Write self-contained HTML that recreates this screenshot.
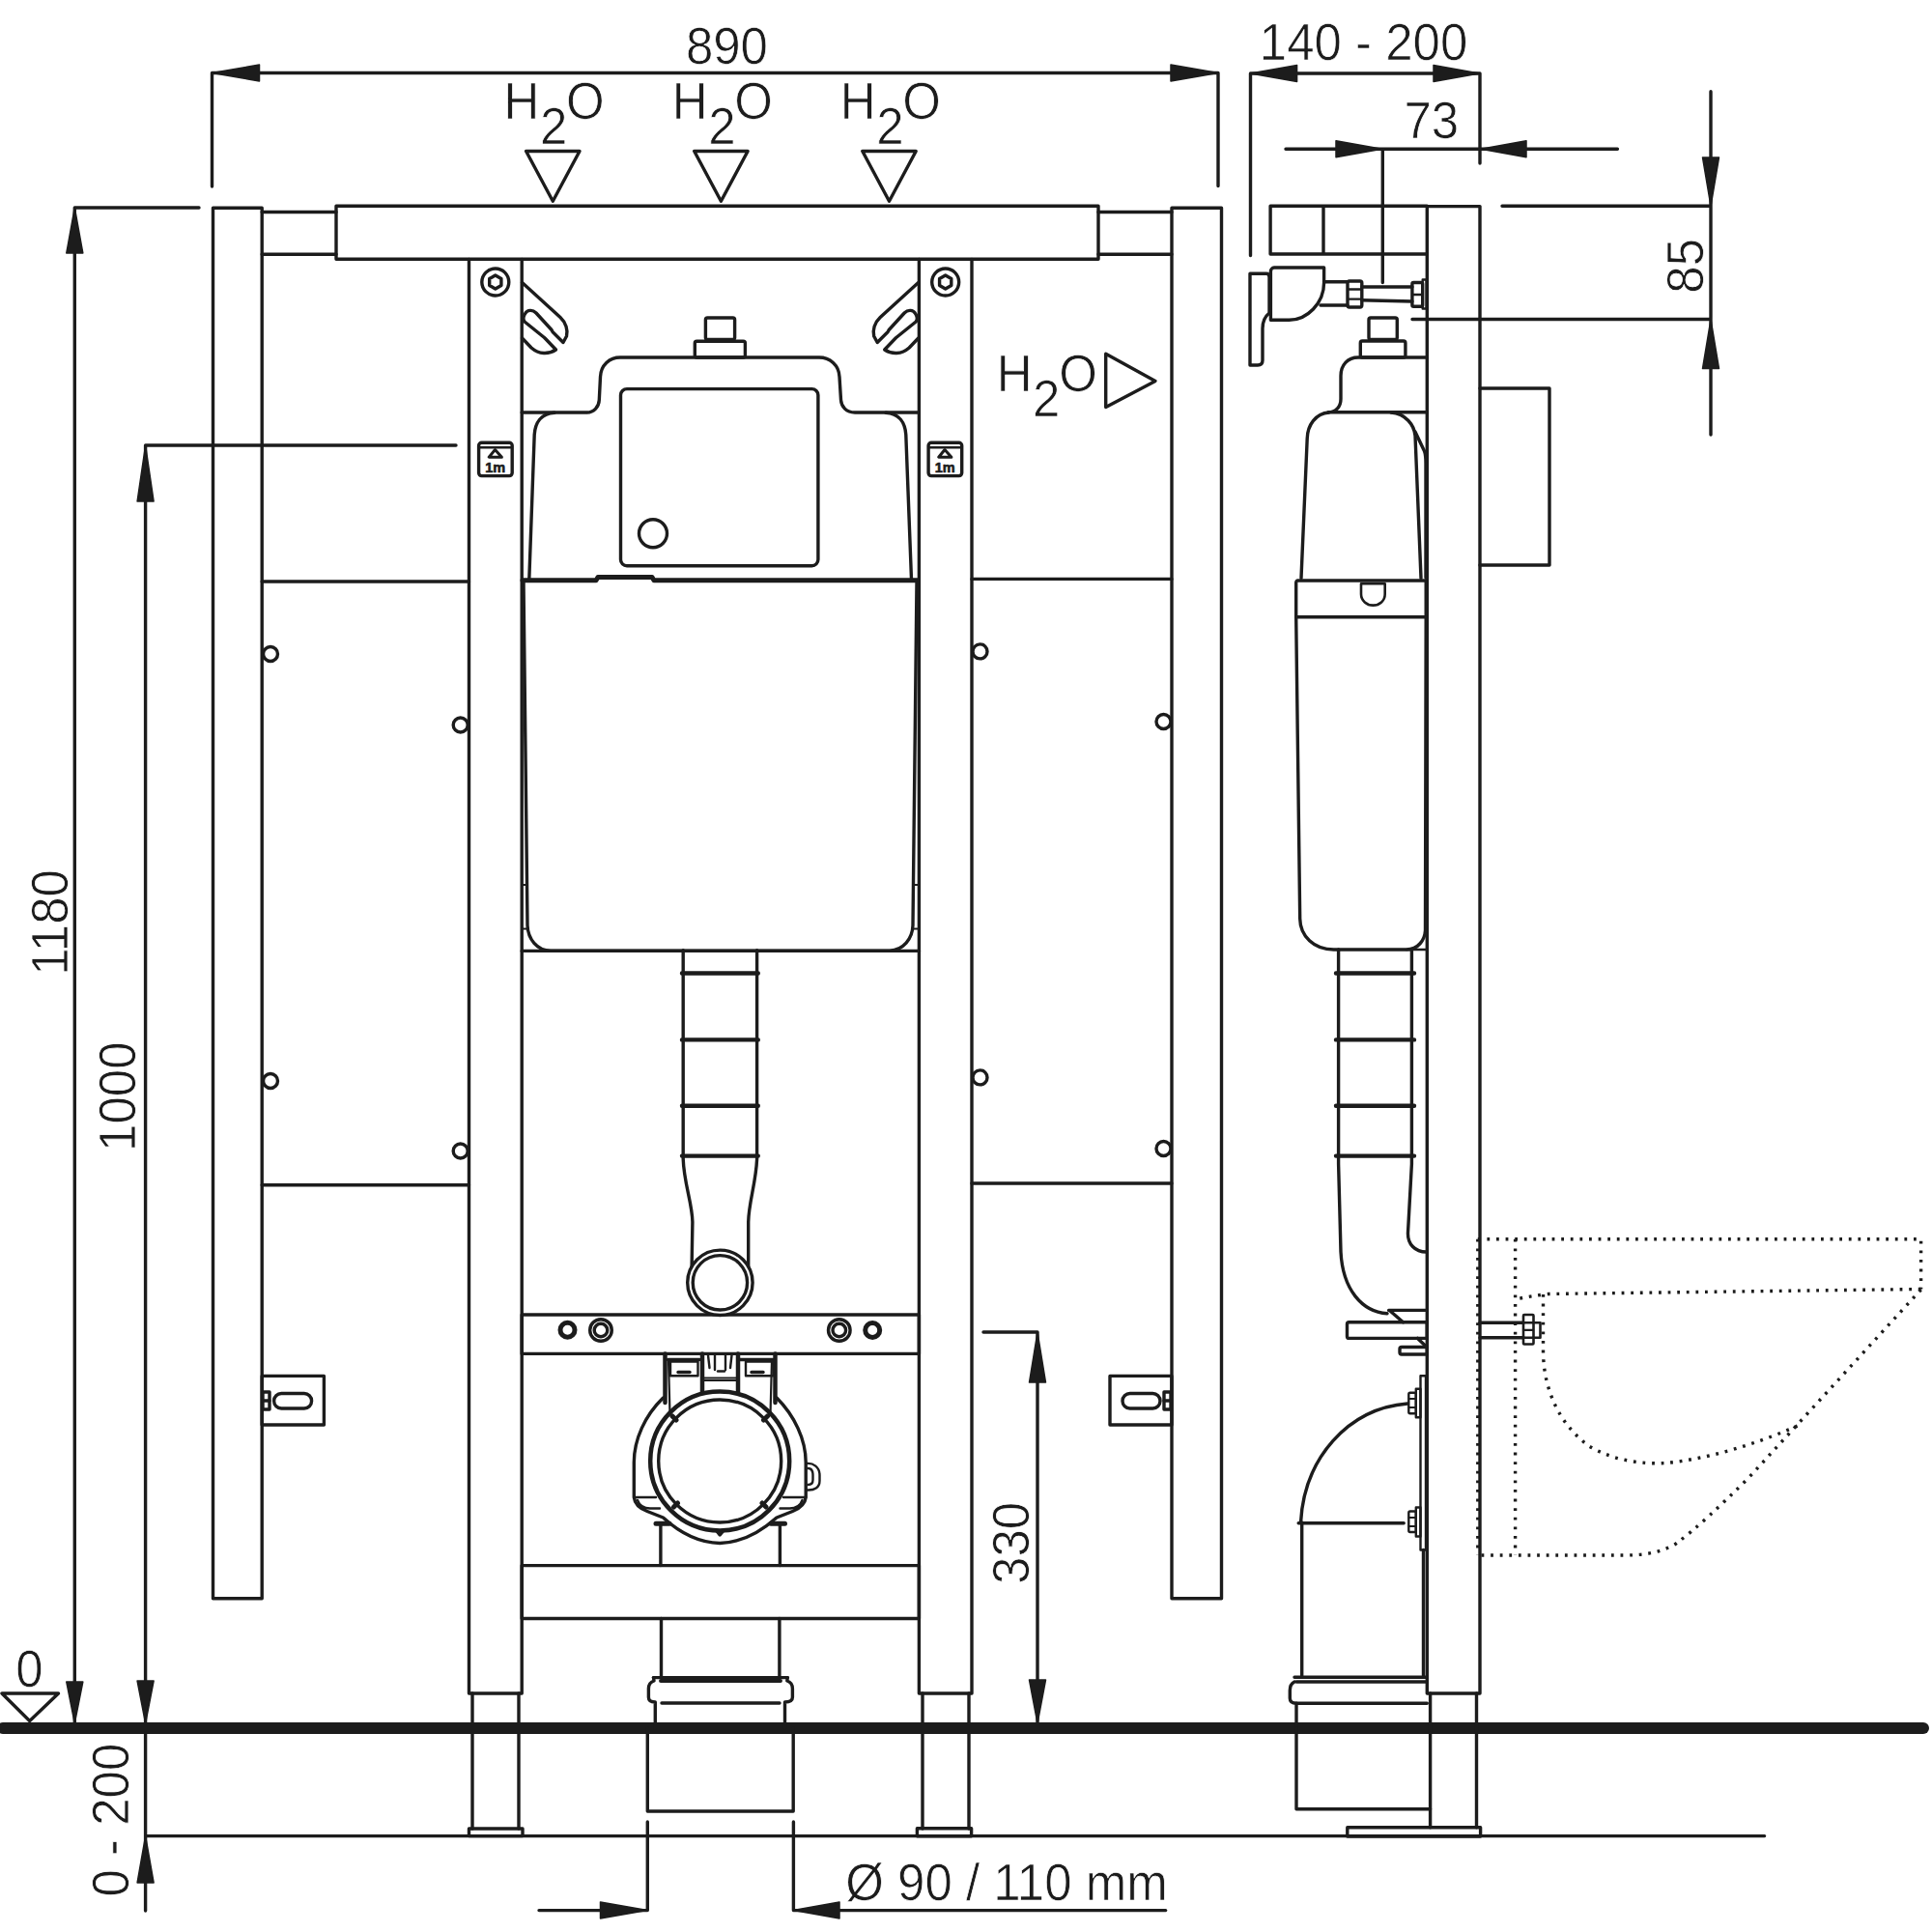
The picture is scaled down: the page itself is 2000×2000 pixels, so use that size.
<!DOCTYPE html>
<html><head><meta charset="utf-8">
<style>
html,body{margin:0;padding:0;background:#fff;}
svg{display:block;}
text{font-family:"Liberation Sans",sans-serif;fill:#1c1c1c;}
</style></head>
<body>
<svg width="2000" height="2000" viewBox="0 0 2000 2000">
<rect x="0" y="0" width="2000" height="2000" fill="#fff"/>
<g fill="none" stroke="#1c1c1c" stroke-width="3.4" stroke-linejoin="round" stroke-linecap="round">
<!-- ===== DIMENSIONS ===== -->
<!-- 890 -->
<path d="M219.5 193 V75.5 H1261 M1261 75.5 V192.5"/>
<path d="M219.5 75.5 L268.5 67 V84 Z M1261 75.5 L1212 67 V84 Z" fill="#1c1c1c" stroke-width="1.5"/>
<!-- 1180 -->
<path d="M77.3 1784 V215 H206"/>
<path d="M77.3 215 L68.8 262 H85.8 Z M77.3 1784 L68.8 1741 H85.8 Z" fill="#1c1c1c" stroke-width="1.5"/>
<!-- 1000 -->
<path d="M150.6 1784 V461 H472"/>
<path d="M150.6 461 L142.1 519 H159.1 Z M150.6 1784 L142.1 1740 H159.1 Z" fill="#1c1c1c" stroke-width="1.5"/>
<!-- 0-200 -->
<path d="M150.6 1789 V1978 M150.6 1900.6 H1826.6"/>
<path d="M150.6 1900.6 L142.1 1949 H159.1 Z" fill="#1c1c1c" stroke-width="1.5"/>
<!-- 330 -->
<path d="M1018 1379 H1074 V1784"/>
<path d="M1074 1379 L1065.5 1431 H1082.5 Z M1074 1784 L1065.5 1739 H1082.5 Z" fill="#1c1c1c" stroke-width="1.5"/>
<!-- zero triangle -->
<path d="M2 1753 H60.5 L30.7 1781.5 Z"/>
<!-- H2O triangles -->
<path d="M544.6 156.5 H600 L572.3 208.2 Z M718.7 156.5 H774.1 L746.4 208.2 Z M892.8 156.5 H948.2 L920.5 208.2 Z"/>
<path d="M1144.7 366.2 V421.6 L1196 394.4 Z"/>
<!-- 140-200 -->
<path d="M1294.5 264.5 V76 H1532 V169"/>
<path d="M1294.5 76 L1342.6 67.5 V84.5 Z M1532 76 L1484 67.5 V84.5 Z" fill="#1c1c1c" stroke-width="1.5"/>
<!-- 73 -->
<path d="M1331 154.2 H1674.4 M1431.3 154.2 V292.5"/>
<path d="M1430.6 154.2 L1383 145.7 V162.7 Z M1533 154.2 L1580 145.7 V162.7 Z" fill="#1c1c1c" stroke-width="1.5"/>
<!-- 85 -->
<path d="M1771 94.7 V450 M1555 213.3 H1771 M1462 330.5 H1771"/>
<path d="M1771 213.3 L1762.5 163 H1779.5 Z M1771 330.5 L1762.5 381.5 H1779.5 Z" fill="#1c1c1c" stroke-width="1.5"/>
<!-- diameter -->
<path d="M670.3 1886 V1977.6 M821.4 1886 V1977.6 M558 1977.6 H670 M821.4 1977.6 H1206.7"/>
<path d="M670 1977.6 L621.5 1969 V1986 Z M821.4 1977.6 L869 1969 V1986 Z" fill="#1c1c1c" stroke-width="1.5"/>

<!-- ===== FRONT FRAME ===== -->
<rect x="220.5" y="215.3" width="50.7" height="1439.5"/>
<rect x="1213" y="215.3" width="51.5" height="1439.5"/>
<path d="M271.2 219.5 H348 M271.2 263.3 H348 M1137 219.5 H1213 M1137 263.3 H1213"/>
<rect x="348" y="213.3" width="789" height="55"/>
<!-- inner columns -->
<path d="M485.5 268.4 V1753 H540.2 V268.4"/>
<path d="M951.4 268.4 V1753 H1006 V268.4"/>
<!-- side panels -->
<path d="M271.2 602 H485.5 M271.2 1226.7 H485.5 M1006 599.4 H1213 M1006 1225 H1213"/>
<circle cx="280" cy="677" r="7.5"/><circle cx="476.7" cy="750.5" r="7.5"/>
<circle cx="280" cy="1119" r="7.5"/><circle cx="476.7" cy="1191.5" r="7.5"/>
<circle cx="1014.5" cy="674.4" r="7.5"/><circle cx="1204.5" cy="747" r="7.5"/>
<circle cx="1014.5" cy="1115.4" r="7.5"/><circle cx="1204.5" cy="1189" r="7.5"/>
<!-- brackets -->
<rect x="271.2" y="1424.4" width="64.2" height="50.6"/>
<rect x="283.6" y="1442.5" width="39" height="15.5" rx="7.7"/>
<rect x="272" y="1441" width="7" height="18"/>
<path d="M272 1450 H279"/>
<rect x="1149" y="1424.4" width="64" height="50.6"/>
<rect x="1162" y="1442.5" width="39" height="15.5" rx="7.7"/>
<rect x="1205" y="1441" width="7" height="18"/>
<path d="M1205 1450 H1212"/>
<!-- feet -->
<path d="M489 1753 V1893 M537 1753 V1893"/>
<rect x="485.5" y="1893" width="55.5" height="7.6"/>
<path d="M955 1753 V1893 M1003 1753 V1893"/>
<rect x="949.4" y="1892.8" width="56.2" height="8"/>
<!-- crossbars -->
<rect x="540.2" y="1361" width="411.2" height="40.4"/>
<rect x="540.2" y="1620.6" width="411.2" height="54.9"/>
</g>
<!-- ground -->
<path d="M3 1789 H1991" stroke="#1c1c1c" stroke-width="12" stroke-linecap="round" fill="none"/>
<g fill="none" stroke="#1c1c1c" stroke-width="3.4" stroke-linejoin="round" stroke-linecap="round">
<!-- screws -->
<circle cx="512.8" cy="292" r="14"/>
<path d="M512.8 285 L518.9 288.5 V295.5 L512.8 299 L506.7 295.5 V288.5 Z"/>
<circle cx="978.7" cy="292" r="14"/>
<path d="M978.7 285 L984.8 288.5 V295.5 L978.7 299 L972.6 295.5 V288.5 Z"/>
<!-- slot shapes -->
<g id="slotL">
<path d="M540.5 292.5 L580 328.5 C586 334 588 342 586.5 348 L583 354.5 L572.5 344 C571.5 343 571.5 342 571 341.5 L555 324 C551 320 546 321 544 324 C541.5 327.5 541.5 331 543 333 L563.5 349.5 L565 351 L575.5 362 C568 367 558 367 550 360 L540.5 350"/>
</g>
<g transform="translate(1491.2,0) scale(-1,1)">
<path d="M540.5 292.5 L580 328.5 C586 334 588 342 586.5 348 L583 354.5 L572.5 344 C571.5 343 571.5 342 571 341.5 L555 324 C551 320 546 321 544 324 C541.5 327.5 541.5 331 543 333 L563.5 349.5 L565 351 L575.5 362 C568 367 558 367 550 360 L540.5 350"/>
</g>
<!-- icons -->
<g id="icoL">
<rect x="495.6" y="458.2" width="34.6" height="34.4" rx="3"/>
<path d="M496.5 463.2 H529.5" stroke-width="2.6"/>
<path d="M512.5 465.5 L506.2 473.2 H519.4 Z" stroke-width="3"/>

<text transform="translate(512.6,488.6) scale(1,1.05)" font-size="14.5" font-weight="bold" text-anchor="middle" stroke="#1c1c1c" stroke-width="0.6" fill="#1c1c1c">1m</text>
</g>
<use href="#icoL" transform="translate(465.5,0)"/>
<!-- knob -->
<rect x="730.4" y="329" width="30.2" height="22.4" rx="2"/>
<rect x="719.3" y="353.2" width="52.1" height="16.8" rx="2"/>
<!-- top profile -->
<path d="M540.2 427 H607.5 C615 427 620 421 620.3 414 L621.5 390 C622 378 631 370 642 370 H848 C859 370 868.5 378 869 390 L870.5 414 C871 421 876 427 885 427 H951.4"/>
<!-- inner panel -->
<rect x="642.5" y="402.6" width="204.4" height="183.2" rx="6.5"/>
<circle cx="676" cy="552.2" r="14.5"/>
<!-- upper body -->
<path d="M574 427.3 C560 428 554 438 553.2 450 L547.8 600"/>
<path d="M917 427.3 C931 428 937 438 937.8 450 L943.5 600"/>
<!-- thick line -->
<path d="M541 600.8 H617 L619 597.5 H675 L677 600.8 H949.7" stroke-width="5"/>
<!-- front panel -->
<path d="M542 603 L546 958 C546.5 972 556 984 570 984.2 H921 C935 983.7 944.5 972 945 958 L949 603"/>
<path d="M540.2 984.4 H951.4"/>
<path d="M540.2 916 H545 M540.2 961.5 H546 M951.4 916 H946.5 M951.4 961.5 H945.5" stroke-width="2"/>
</g>
<g fill="none" stroke="#1c1c1c" stroke-width="3.4" stroke-linejoin="round" stroke-linecap="round">
<!-- upper pipe -->
<path d="M707.2 983.7 V1199.8 C708 1225 716.5 1245 716.9 1265 L716 1318"/>
<path d="M783.6 983.7 V1199.8 C782.5 1225 775 1245 774.7 1265 V1318"/>
<path d="M706 1007.5 H784.8 M706 1076.4 H784.8 M706 1144.8 H784.8 M706 1196.6 H784.8" stroke-width="4.4"/>
<circle cx="745.4" cy="1327.8" r="33.7" fill="#fff"/>
<circle cx="745.4" cy="1327.8" r="28.2"/>
<!-- crossbar holes -->
<circle cx="587.5" cy="1376.8" r="7.5" stroke-width="5"/>
<circle cx="622" cy="1377" r="11.3"/><circle cx="622" cy="1377" r="6.8"/>
<circle cx="868.8" cy="1377" r="11.3"/><circle cx="868.8" cy="1377" r="6.8"/>
<circle cx="903.2" cy="1377" r="7.5" stroke-width="5"/>
<!-- clamp assembly -->
<path d="M688.5 1401.4 V1452 M802.5 1401.4 V1452" stroke-width="4.5"/>
<path d="M691.5 1407.5 H724 M766 1407.5 H800"/>
<path d="M692 1408 L693.5 1464 M799 1408 L797.5 1464" stroke-width="2.2"/>
<rect x="694" y="1409.5" width="28.5" height="14.8" stroke-width="2.4"/>
<rect x="772" y="1409.5" width="28.5" height="14.8" stroke-width="2.4"/>
<path d="M702 1420.5 H714 M778 1420.5 H790" stroke-width="3.5"/>
<path d="M727 1401.4 V1442 M764 1401.4 V1442" stroke-width="4.5"/>
<path d="M733 1403 L734.5 1416 M740 1403 V1418 M751 1403 V1418 M757.5 1403 L756 1416" stroke-width="2.4"/>
<path d="M743 1419.5 H750" stroke-width="2.4"/>
<path d="M729 1426.5 H762 M729 1429 H762" stroke-width="2.2"/>
<!-- outer shell -->
<path d="M686.5 1447 C668 1465 656 1490 656.3 1515 V1550 C657 1556 661 1561 670 1564.5 L686.5 1571 C705 1588 725 1597 745.2 1597.5 C765 1597 785 1588 804 1571 L820.5 1564.5 C829 1561 833.5 1556 834.2 1550 V1515 C834.5 1490 822 1465 804 1447"/>
<path d="M656.3 1550 H679 M834.2 1550 H811" stroke-width="2.4"/>
<path d="M660 1553 C662 1559 667 1561.5 673 1561.5 H683 M830.5 1553 C828.5 1559 823.5 1561.5 817.5 1561.5 H807.5" stroke-width="2.4"/>
<circle cx="745.2" cy="1512.5" r="72" stroke-width="4.5" fill="#fff"/>
<circle cx="745.2" cy="1512.5" r="63.5"/>
<path d="M696 1466 L700 1470 M794.5 1466 L790.5 1470 M697.5 1560 L701.5 1556 M793 1560 L789 1556" stroke-width="5"/>
<path d="M742 1585 L745.2 1589 L748.5 1585" stroke-width="3.5"/>
<path d="M834.5 1515 C842 1514 848.5 1519 848.5 1527 V1533 C848.5 1540 843 1543 835.5 1542.5 M836.5 1520 C840 1520 841.5 1523 841.5 1527 V1532 C841.5 1535 840 1537 836.5 1537" stroke-width="2.4"/>
<path d="M679 1577.3 H693 M798 1577.3 H812.5" stroke-width="5"/>
<path d="M683.9 1577.7 V1620.6 M807.4 1577.7 V1620.6"/>
<!-- lower pipe -->
<path d="M684.5 1675.5 V1736.6 M806.9 1675.5 V1736.6"/>
<path d="M676.5 1736.6 H815.3"/>
<path d="M684 1740 H808" stroke-width="3.9"/>
<path d="M676.5 1736.6 L677 1740 C672.5 1741.5 671.4 1745 671.4 1748 V1757 C671.4 1760 673 1762 678.3 1762 V1789"/>
<path d="M815.3 1736.6 L814.8 1740 C819.3 1741.5 820.4 1745 820.4 1748 V1757 C820.4 1760 818.8 1762 812.5 1762 V1789"/>
<path d="M685 1763 H807"/>
<path d="M670.3 1789 V1875 H821.2 V1789"/>
</g>
<g fill="none" stroke="#1c1c1c" stroke-width="3.4" stroke-linejoin="round" stroke-linecap="round">
<!-- column -->
<path d="M1477.3 213.6 V1753 H1532 V213.6 Z"/>
<path d="M1480.6 1753 V1891.8 M1528.5 1753 V1891.8"/>
<rect x="1394.8" y="1891.8" width="137.8" height="9.2"/>
<!-- top block -->
<path d="M1477.3 213.3 H1315.1 V263 H1477.3 M1370 213.3 V263"/>
<!-- backplate -->
<path d="M1532 402 H1604 V585 H1532"/>
<!-- valve -->
<path d="M1294 283.2 H1311 C1313 283.2 1314 285 1314 287 V324 C1309 328 1307 334 1307 340 V373 C1307 376.5 1305 378 1302 378 H1294 Z"/>
<path d="M1319 277 H1370.6 V292.5 C1370.6 314 1353 331.3 1334.5 331.3 H1315.4 V281 C1315.4 279 1317 277 1319 277 Z"/>
<path d="M1370.6 291.7 H1395 M1367 316 H1395"/>
<rect x="1395" y="291" width="14.8" height="27" rx="2"/>
<path d="M1396 299.5 H1409 M1396 309.6 H1409" stroke-width="2.4"/>
<path d="M1409.8 297 H1461.9 M1409.8 310.8 L1461.9 312"/>
<rect x="1461.9" y="292.5" width="10.8" height="24.8" rx="1.5"/>
<path d="M1462.5 305 H1472" stroke-width="2.4"/>
<path d="M1472.7 289.5 V319.5 H1476.6 V289.5 Z" stroke-width="2.4"/>
<!-- side knob -->
<rect x="1417" y="329" width="29.3" height="22.5" rx="2"/>
<rect x="1408.3" y="353" width="46.6" height="17" rx="2"/>
<!-- cistern top -->
<path d="M1477.3 370 H1406 C1395 370 1388 378 1388 389 V413 C1388 421 1383 426.8 1375 426.8 H1477.3"/>
<path d="M1375.7 427 C1362 428 1353.5 440 1353.2 454 L1347 598.4"/>
<path d="M1440 427 C1455 428 1464 440 1465 451 L1471 598.4"/>
<path d="M1465 447 L1474.5 467 C1475.6 470 1476 474 1476 480 V598"/>
<!-- band -->
<path d="M1343.5 601 H1476.2 V638.7 H1341.7 V603 C1341.7 602 1342.5 601 1343.5 601 Z"/>
<path d="M1409 604.3 V615 C1409 622 1415 626.6 1421.4 626.6 C1428 626.6 1433.7 622 1433.7 615 V604.3 Z" stroke-width="2.6"/>
<!-- lower body -->
<path d="M1341.7 638.7 L1345.7 951 C1346 969 1360 983 1380.7 983 H1456 C1468 983 1475 973 1475.5 963 L1476.2 638.7"/>
<path d="M1456 983 H1477.3" stroke-width="2.4"/>
<!-- pipe -->
<path d="M1385.6 983 V1205 L1388 1296 C1390 1335 1410 1358 1436 1359.7"/>
<path d="M1461.4 983 V1205 L1457.5 1276 C1457 1288 1465 1296 1476.5 1296"/>
<path d="M1383 1007.5 H1464 M1383 1076.4 H1464 M1383 1144.8 H1464 M1383 1196.6 H1464" stroke-width="4.4"/>
<!-- bracket -->
<path d="M1437.6 1356.4 H1477.3 M1439 1357 L1452.5 1368.8"/>
<rect x="1394.5" y="1368.8" width="82.8" height="16.6" rx="2"/>
<path d="M1467.5 1385.4 L1476.5 1394"/>
<rect x="1449" y="1394.5" width="28.3" height="7.5" rx="2"/>
<!-- mounting plate -->
<path d="M1470.5 1424.3 H1476 V1604.5 H1470.5 Z" stroke-width="2.4"/>
<path d="M1473.5 1604.5 V1736"/>
<rect x="1465.8" y="1437.7" width="4.7" height="29.6" stroke-width="2.4"/>
<rect x="1458.3" y="1441.7" width="7.5" height="21.5" rx="1.5" stroke-width="2.4"/>
<path d="M1458.5 1448 H1465.5 M1458.5 1457 H1465.5" stroke-width="2"/>
<rect x="1465.8" y="1560.5" width="4.7" height="30" stroke-width="2.4"/>
<rect x="1458.3" y="1564.5" width="7.5" height="21.5" rx="1.5" stroke-width="2.4"/>
<path d="M1458.5 1571 H1465.5 M1458.5 1580 H1465.5" stroke-width="2"/>
<!-- bend -->
<path d="M1457.2 1453 C1395 1458 1350 1510 1346.5 1576.2"/>
<path d="M1344.2 1576.8 H1453.2"/>
<path d="M1347.7 1576 V1736.3"/>
<!-- collar -->
<path d="M1340 1736.3 H1477.3 M1342 1741 H1477"/>
<path d="M1340 1741 C1336 1743 1335.3 1746 1335.3 1750 V1758 C1335.3 1761 1337 1763.2 1342 1763.2 H1477.3"/>
<path d="M1342 1763.2 V1789"/>
<path d="M1342 1789 V1872.7 H1480.6"/>
<!-- bolt -->
<path d="M1532 1369.2 H1577 M1532 1384.7 H1577"/>
<rect x="1577" y="1361" width="10.5" height="30.5" rx="1" stroke-width="2.6"/>
<path d="M1577.5 1369.2 H1587 M1577.5 1376.9 H1587 M1577.5 1384.7 H1587" stroke-width="2.4"/>
<path d="M1587.5 1369.2 H1594.5 V1384.7 H1587.5" stroke-width="2.6"/>
</g>
<!-- toilet dotted -->
<g fill="none" stroke="#1c1c1c" stroke-width="3.4" stroke-dasharray="2.8 6.8" stroke-linecap="butt">
<path d="M1529.8 1282.8 V1609.4"/>
<path d="M1529.8 1282.8 H1988.6 V1334.5"/>
<path d="M1568.6 1282.8 V1609.4"/>
<path d="M1988.6 1334.5 L1603 1339.5 C1590 1341 1578 1343 1568.6 1345"/>
<path d="M1597.5 1340 V1399.5 C1598 1440 1615 1475 1645 1497 C1670 1512 1700 1516 1725 1514.5 C1770 1510 1820 1494 1861.5 1475.7"/>
<path d="M1988.6 1335 L1810 1530 C1780 1560 1755 1583 1735 1598 C1718 1608 1700 1610 1681 1610 H1529.8"/>
</g>
<g font-size="51" fill="#1c1c1c" stroke="#fff" stroke-width="0.7">
<text transform="translate(709.9,66.2) scale(1,1.04)">890</text>
<text transform="translate(521.6,123) scale(1,1.04)">H</text><text transform="translate(559.1,148.6) scale(1,1.04)">2</text><text transform="translate(586.1,123) scale(1,1.04)">O</text>
<text transform="translate(695.7,123) scale(1,1.04)">H</text><text transform="translate(733.2,148.6) scale(1,1.04)">2</text><text transform="translate(760.2,123) scale(1,1.04)">O</text>
<text transform="translate(869.8,123) scale(1,1.04)">H</text><text transform="translate(907.3,148.6) scale(1,1.04)">2</text><text transform="translate(934.3,123) scale(1,1.04)">O</text>
<text transform="translate(1031.8,404.8) scale(1,1.04)">H</text><text transform="translate(1069,430.7) scale(1,1.04)">2</text><text transform="translate(1096.2,404.8) scale(1,1.04)">O</text>
<text transform="translate(1303.8,61.7) scale(1,1.04)">140 - 200</text>
<text transform="translate(1453.4,143.2) scale(1,1.04)">73</text>
<text transform="translate(16.3,1746.1) scale(1,1.04)">0</text>
<text transform="translate(875.2,1967) scale(1,1.04)">Ø 90 / 110 mm</text>
<text transform="translate(69.9,1009.8) rotate(-90) scale(1,1.04)">1180</text>
<text transform="translate(140.3,1191.9) rotate(-90) scale(1,1.04)">1000</text>
<text transform="translate(1065.1,1639.9) rotate(-90) scale(1,1.04)">330</text>
<text transform="translate(132.7,1963.4) rotate(-90) scale(1,1.04)">0 - 200</text>
<text transform="translate(1762.6,303.7) rotate(-90) scale(1,1.04)">85</text>
</g>
</svg>
</body></html>
